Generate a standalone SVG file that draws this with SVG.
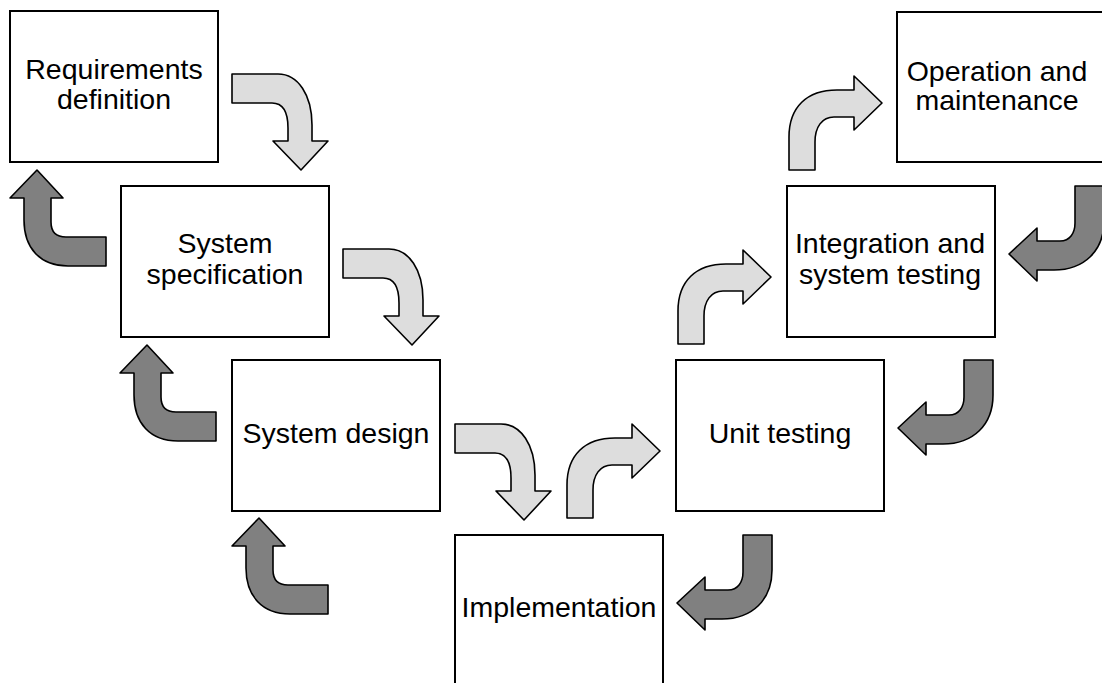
<svg xmlns="http://www.w3.org/2000/svg" xmlns:xlink="http://www.w3.org/1999/xlink" width="1102" height="683" viewBox="0 0 1102 683">
  <style>
    .box { fill: #ffffff; stroke: #000000; stroke-width: 2; }
    .label { font-family: "Liberation Sans", Arial, sans-serif; font-size: 28.5px; fill: #000000; text-anchor: middle; }
    .fwd { fill: #dddddd; stroke: #000000; stroke-width: 1.6; stroke-linejoin: round; }
    .back { fill: #808080; stroke: #000000; stroke-width: 1.6; stroke-linejoin: round; }
  </style>
  <defs>
    <!-- forward step, bending right then down -->
    <path id="downRight" d="M0,0 H46 C66,0 80,21 80,51 V67 H96 L69,96 L41,67 H56 V54 C56,38 51,29 40,29 H0 Z"/>
    <!-- iteration back, bending left then up -->
    <path id="upLeft" d="M27,0 L53,28 H41 V52 C41,62 46,67 56,67 H96 V96 H58 C30,96 14,78 14,50 V28 H0 Z"/>
    <!-- forward step, bending up then right -->
    <path id="upRight" d="M0,94 V61 C0,31 18,14 48,14 H65 V0 L93,27 L65,54 V41 H45 C33,41 26,51 26,66 V94 Z"/>
    <!-- iteration back, bending down then left -->
    <path id="downLeft" d="M66,0 H95 V35 C95,65 75,84 45,84 H28 V95 L0,68 L28,42 V55 H51 C61,55 66,47 66,37 Z"/>
  </defs>
  <rect width="1102" height="683" fill="#ffffff"/>

  <g id="connectors">
    <use xlink:href="#downRight" class="fwd" transform="translate(232,74)"/>
    <use xlink:href="#downRight" class="fwd" transform="translate(343,249)"/>
    <use xlink:href="#downRight" class="fwd" transform="translate(455,424)"/>
    <use xlink:href="#upLeft" class="back" transform="translate(10,170)"/>
    <use xlink:href="#upLeft" class="back" transform="translate(120,345)"/>
    <use xlink:href="#upLeft" class="back" transform="translate(232,518)"/>
    <use xlink:href="#upRight" class="fwd" transform="translate(567,424)"/>
    <use xlink:href="#upRight" class="fwd" transform="translate(678,250)"/>
    <use xlink:href="#upRight" class="fwd" transform="translate(789,76)"/>
    <use xlink:href="#downLeft" class="back" transform="translate(677,535)"/>
    <use xlink:href="#downLeft" class="back" transform="translate(898,360)"/>
    <use xlink:href="#downLeft" class="back" transform="translate(1009,186)"/>
  </g>

  <g id="requirements">
    <rect class="box" x="10" y="11" width="208" height="151"/>
    <text class="label" x="114" y="79">Requirements</text>
    <text class="label" x="114" y="109">definition</text>
  </g>
  <g id="system-specification">
    <rect class="box" x="121" y="186" width="208" height="151"/>
    <text class="label" x="225" y="253">System</text>
    <text class="label" x="225" y="284">specification</text>
  </g>
  <g id="system-design">
    <rect class="box" x="232" y="360" width="208" height="151"/>
    <text class="label" x="336" y="443">System design</text>
  </g>
  <g id="implementation">
    <rect class="box" x="455" y="535" width="208" height="160"/>
    <text class="label" x="559" y="617">Implementation</text>
  </g>
  <g id="unit-testing">
    <rect class="box" x="676" y="360" width="208" height="151"/>
    <text class="label" x="780" y="443">Unit testing</text>
  </g>
  <g id="integration">
    <rect class="box" x="787" y="186" width="208" height="151"/>
    <text class="label" x="890" y="253">Integration and</text>
    <text class="label" x="890" y="284">system testing</text>
  </g>
  <g id="operation">
    <rect class="box" x="897" y="12" width="210" height="150"/>
    <text class="label" x="997" y="81">Operation and</text>
    <text class="label" x="997" y="110">maintenance</text>
  </g>
</svg>
